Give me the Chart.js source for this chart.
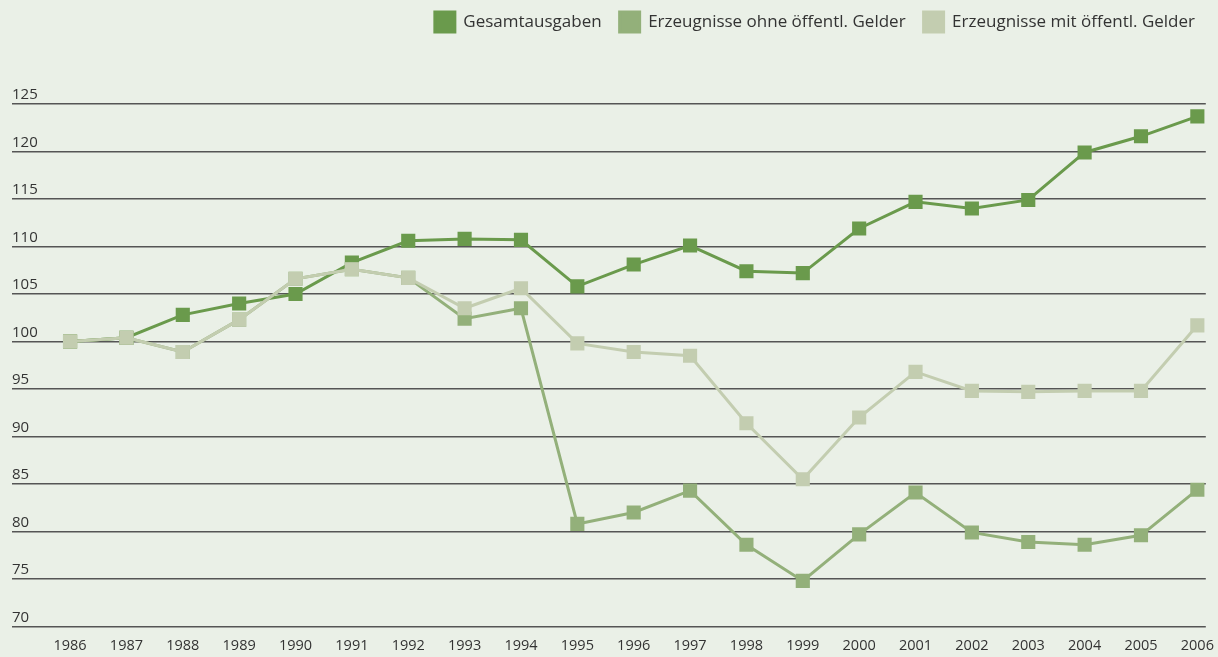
<!DOCTYPE html>
<html>
<head>
<meta charset="utf-8">
<script src="https://cdn.jsdelivr.net/npm/chart.js@4"></script>
<style>
  html, body { margin: 0; padding: 0; background: #eaf0e7; }
  #wrap { width: 1218px; height: 657px; position: relative; }
</style>
</head>
<body>
<div id="wrap"><canvas id="indexChart"></canvas></div>
<script>
const years = [1986, 1987, 1988, 1989, 1990, 1991, 1992, 1993, 1994, 1995, 1996,
  1997, 1998, 1999, 2000, 2001, 2002, 2003, 2004, 2005, 2006];

const gesamtausgaben = [100, 100.4, 102.8, 104, 105, 108.3, 110.6, 110.8, 110.7, 105.8, 108.1,
  110.1, 107.4, 107.2, 111.9, 114.7, 114, 114.9, 119.9, 121.6, 123.7];
const ohneGelder = [100, 100.4, 98.9, 102.3, 106.6, 107.6, 106.7, 102.4, 103.5, 80.8, 82,
  84.3, 78.6, 74.8, 79.7, 84.1, 79.9, 78.9, 78.6, 79.6, 84.4];
const mitGelder = [100, 100.4, 98.9, 102.3, 106.6, 107.6, 106.7, 103.5, 105.6, 99.8, 98.9,
  98.5, 91.4, 85.5, 92, 96.8, 94.8, 94.7, 94.8, 94.8, 101.7];

const yTicks = [70, 75, 80, 85, 90, 95, 100, 105, 110, 115, 120, 125];

const toPoints = (arr) => arr.map((v, i) => ({ x: years[i], y: v }));

const series = (label, data, color, order) => ({
  label,
  data: toPoints(data),
  borderColor: color,
  backgroundColor: color,
  pointBackgroundColor: color,
  pointBorderWidth: 0,
  pointStyle: 'rect',
  pointRadius: 10,
  pointHoverRadius: 10,
  borderWidth: 3,
  tension: 0,
  order
});

// push the plot down below the legend
const legendSpace = {
  id: 'legendSpace',
  beforeInit(chart) {
    const fit = chart.legend.fit;
    chart.legend.fit = function () {
      fit.bind(chart.legend)();
      this.height += 62;
    };
  }
};

Chart.defaults.font.family = '"Open Sans", "Noto Sans", sans-serif';
Chart.defaults.color = '#333';

new Chart(document.getElementById('indexChart'), {
  type: 'line',
  data: {
    datasets: [
      series('Gesamtausgaben', gesamtausgaben, '#6a9a4c', 2),
      series('Erzeugnisse ohne öffentl. Gelder', ohneGelder, '#93b07a', 1),
      series('Erzeugnisse mit öffentl. Gelder', mitGelder, '#c3cdb0', 0)
    ]
  },
  options: {
    responsive: true,
    maintainAspectRatio: false,
    animation: false,
    layout: { padding: { left: 12, right: 5, top: -6, bottom: 0 } },
    plugins: {
      tooltip: { enabled: false },
      legend: {
        position: 'top',
        align: 'end',
        labels: {
          boxWidth: 20,
          boxHeight: 20,
          padding: 18,
          font: { size: 17 },
          color: '#333',
          sort: (a, b) => a.datasetIndex - b.datasetIndex
        }
      }
    },
    scales: {
      x: {
        type: 'linear',
        min: 1984.97,
        max: 2006.15,
        afterBuildTicks: (axis) => { axis.ticks = years.map(v => ({ value: v })); },
        grid: { display: false },
        border: { display: false },
        ticks: {
          autoSkip: false,
          maxRotation: 0,
          padding: 4,
          font: { size: 14.5, lineHeight: 1 },
          color: '#333',
          callback: (v) => String(v)
        }
      },
      y: {
        min: 70,
        max: 125,
        afterBuildTicks: (axis) => { axis.ticks = yTicks.map(v => ({ value: v })); },
        border: { display: false },
        grid: { color: '#555', lineWidth: 1.4, drawTicks: false },
        ticks: {
          mirror: true,
          padding: 0,
          labelOffset: -9,
          font: { size: 15 },
          color: '#333'
        }
      }
    }
  },
  plugins: [legendSpace]
});
</script>
</body>
</html>
